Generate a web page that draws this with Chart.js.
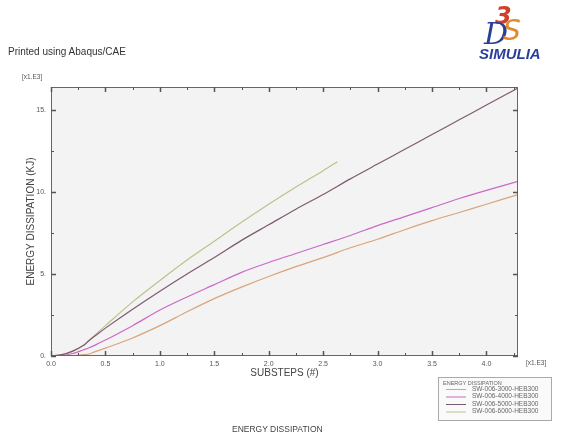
<!DOCTYPE html>
<html>
<head>
<meta charset="utf-8">
<script src="https://cdn.jsdelivr.net/npm/chart.js@4"></script>
<style>
  html,body{margin:0;padding:0;background:#fff;}
  #wrap{position:relative;width:563px;height:437px;overflow:hidden;font-family:"Liberation Sans",Arial,sans-serif;}
  #c{position:absolute;left:0;top:0;}
  .t{position:absolute;white-space:nowrap;}
</style>
</head>
<body>
<div id="wrap">
  <canvas id="c" width="563" height="437"></canvas>
  <div class="t" style="left:8px;top:46px;font-size:10px;color:#333;">Printed using Abaqus/CAE</div>
  <div class="t" style="left:495px;top:2px;font-size:24px;font-weight:bold;font-style:italic;color:#d2402a;font-family:'DejaVu Sans';">3</div>
  <div class="t" style="left:484px;top:16px;font-size:30px;font-style:italic;color:#2b3f99;font-family:'DejaVu Serif';">D</div>
  <div class="t" style="left:503px;top:14px;font-size:28px;font-style:italic;color:#e28a2a;font-family:'DejaVu Sans';">S</div>
  <div class="t" style="left:479px;top:45px;font-size:15px;font-weight:bold;font-style:italic;color:#2b3f99;">SIMULIA</div>
  <div class="t" style="left:232px;top:424px;font-size:8.5px;color:#444;">ENERGY DISSIPATION</div>
</div>
<script>
// ---- data (x in [x1.E3] substeps, y in [x1.E3] kJ) ----
const substeps      = [0, 0.1, 0.2, 0.3, 0.35, 0.4, 0.5, 0.75, 1.0, 1.25, 1.5, 1.75, 2.0, 2.25, 2.5, 2.75, 3.0, 3.25, 3.5, 3.75, 4.0, 4.29];
const sw3000        = [0, 0.0, 0.02, 0.08, 0.12, 0.25, 0.48, 1.1, 1.85, 2.7, 3.5, 4.2, 4.85, 5.45, 6.0, 6.6, 7.12, 7.7, 8.25, 8.75, 9.25, 9.84];
const sw4000        = [0, 0.03, 0.15, 0.38, 0.5, 0.65, 0.97, 1.85, 2.8, 3.6, 4.35, 5.1, 5.7, 6.25, 6.8, 7.35, 7.95, 8.5, 9.05, 9.6, 10.1, 10.65];
const sw5000        = [0, 0.08, 0.3, 0.65, 0.95, 1.2, 1.7, 2.85, 3.95, 5.0, 6.0, 7.05, 8.0, 8.95, 9.85, 10.8, 11.7, 12.6, 13.5, 14.4, 15.3, 16.33];
const substeps6000  = [0, 0.1, 0.2, 0.3, 0.35, 0.4, 0.5, 0.75, 1.0, 1.25, 1.5, 1.75, 2.0, 2.25, 2.5, 2.63];
const sw6000        = [0, 0.08, 0.3, 0.65, 0.95, 1.25, 1.85, 3.3, 4.6, 5.85, 7.0, 8.15, 9.25, 10.3, 11.3, 11.85];
const seriesNames   = ["SW-006-3000-HEB300", "SW-006-4000-HEB300", "SW-006-5000-HEB300", "SW-006-6000-HEB300"];
const seriesColors  = ["#d9a47a", "#c96ac6", "#7d5a70", "#bcc28a"];
const xTickValues   = [0, 0.5, 1.0, 1.5, 2.0, 2.5, 3.0, 3.5, 4.0];
const yTickValues   = [0, 5, 10, 15];
const X_MAX = 4.29, Y_MAX = 16.4;

const toPts = (xs, ys) => xs.map((x, i) => ({x, y: ys[i]}));
const allY = [sw3000, sw4000, sw5000, sw6000];
const allX = [substeps, substeps, substeps, substeps6000];

const frame = {
  id: 'frame',
  beforeDatasetsDraw(chart) {
    const {ctx, chartArea: a} = chart;
    ctx.save();
    ctx.fillStyle = '#f3f3f3';
    ctx.fillRect(a.left, a.top, a.right - a.left, a.bottom - a.top);
    ctx.restore();
  },
  afterDraw(chart) {
    const {ctx, chartArea: a, scales} = chart;
    const xs = scales.x, ys = scales.y;
    ctx.save();
    ctx.strokeStyle = '#666';
    ctx.lineWidth = 1;
    ctx.strokeRect(a.left + 0.5, a.top + 0.5, a.right - a.left - 1, a.bottom - a.top - 1);
    ctx.strokeStyle = '#555';
    for (let v = 0; v <= X_MAX + 1e-9; v += 0.25) {
      const px = Math.round(xs.getPixelForValue(v)) + 0.5;
      const major = Math.abs(v * 2 - Math.round(v * 2)) < 1e-6;
      const len = major ? 5 : 3;
      ctx.lineWidth = major ? 1.5 : 1;
      ctx.beginPath();
      ctx.moveTo(px, a.bottom); ctx.lineTo(px, a.bottom - len);
      ctx.moveTo(px, a.top); ctx.lineTo(px, a.top + len);
      ctx.stroke();
    }
    for (let v = 0; v <= Y_MAX + 1e-9; v += 2.5) {
      const py = Math.round(ys.getPixelForValue(v)) + 0.5;
      const major = Math.abs(v / 5 - Math.round(v / 5)) < 1e-6;
      const len = major ? 5 : 3;
      ctx.lineWidth = major ? 1.5 : 1;
      ctx.beginPath();
      ctx.moveTo(a.left, py); ctx.lineTo(a.left + len, py);
      ctx.moveTo(a.right, py); ctx.lineTo(a.right - len, py);
      ctx.stroke();
    }
    ctx.fillStyle = '#555';
    ctx.font = '6.5px "Liberation Sans", Arial';
    ctx.textBaseline = 'middle';
    ctx.textAlign = 'left';
    ctx.fillText('[x1.E3]', 22, a.top - 10);
    ctx.fillText('[x1.E3]', a.right + 8, a.bottom + 7);
    const lx = 438, ly = 377, lw = 113, lh = 43;
    ctx.fillStyle = '#fafafa';
    ctx.fillRect(lx, ly, lw, lh);
    ctx.strokeStyle = '#aaa';
    ctx.lineWidth = 1;
    ctx.strokeRect(lx + 0.5, ly + 0.5, lw, lh);
    ctx.fillStyle = '#666';
    ctx.font = '5.5px "Liberation Sans", Arial';
    ctx.fillText('ENERGY DISSIPATION', lx + 5, ly + 6);
    chart.data.datasets.forEach((ds, i) => {
      const yy = ly + 12 + i * 7.5;
      ctx.strokeStyle = ds.borderColor;
      ctx.lineWidth = 1;
      ctx.beginPath();
      ctx.moveTo(lx + 8, yy + 0.5); ctx.lineTo(lx + 28, yy + 0.5);
      ctx.stroke();
      ctx.fillStyle = '#666';
      ctx.font = '6.5px "Liberation Sans", Arial';
      ctx.fillText(ds.label, lx + 34, yy);
    });
    ctx.restore();
  }
};

new Chart(document.getElementById('c'), {
  type: 'line',
  data: {
    datasets: seriesNames.map((n, i) => ({
      label: n,
      data: toPts(allX[i], allY[i]),
      borderColor: seriesColors[i],
      backgroundColor: seriesColors[i],
      borderWidth: 1.2,
      pointRadius: 0,
      tension: 0.3,
      fill: false
    }))
  },
  options: {
    responsive: false,
    animation: false,
    devicePixelRatio: 1,
    layout: {padding: {left: 20, top: 87, right: 45, bottom: 57}},
    plugins: {legend: {display: false}, tooltip: {enabled: false}},
    scales: {
      x: {
        type: 'linear', min: 0, max: X_MAX,
        afterBuildTicks: s => { s.ticks = xTickValues.map(v => ({value: v})); },
        afterFit: s => { s.height = 24; },
        grid: {display: false, drawTicks: false},
        border: {display: false},
        ticks: {padding: 4, color: '#555', font: {size: 7, family: '"Liberation Sans", Arial'},
                maxRotation: 0, autoSkip: false, callback: v => Number(v).toFixed(1)},
        title: {display: true, text: 'SUBSTEPS (#)', color: '#444', padding: {top: 0, bottom: 1},
                font: {size: 10, family: '"Liberation Sans", Arial'}}
      },
      y: {
        type: 'linear', min: 0, max: Y_MAX,
        afterBuildTicks: s => { s.ticks = yTickValues.map(v => ({value: v})); },
        afterFit: s => { s.width = 31; },
        grid: {display: false, drawTicks: false},
        border: {display: false},
        ticks: {padding: 5, color: '#555', font: {size: 7, family: '"Liberation Sans", Arial'},
                autoSkip: false, callback: v => v + '.'},
        title: {display: true, text: 'ENERGY DISSIPATION (KJ)', color: '#444', padding: {top: 5, bottom: 0},
                font: {size: 10, family: '"Liberation Sans", Arial'}}
      }
    }
  },
  plugins: [frame]
});
</script>
</body>
</html>
